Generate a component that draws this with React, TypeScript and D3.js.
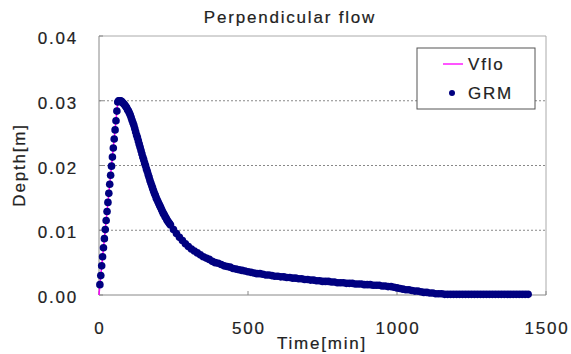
import * as d3 from "d3";

// ── Data ──────────────────────────────────────────────────
// GRM output: 3-min steps to 240 min, then 10-min steps to 1440 min
const grmTimeFine = d3.range(3, 241, 3);
const grmTimeTail = d3.range(250, 1441, 10);

// depth in 0.1 mm units (×1e-4 m)
const grmDepthFine = [
  16, 30, 45, 59, 73, 87, 101, 115, 129, 143, 157, 171, 185, 199, 213, 227, 241, 255, 269, 284, 298,
  300, 300, 300, 299, 298, 296, 295, 293, 291, 289,
  286, 284, 281, 278, 274, 270, 266, 262, 257, 252,
  247, 243, 238, 233, 228, 223, 218, 213, 209, 204,
  200, 195, 191, 186, 182, 177, 173, 169, 165, 161,
  157, 154, 150, 147, 144, 141, 138, 135, 132, 129,
  126, 124, 121, 119, 116, 114, 112, 110, 108,
];
const grmDepthTail = [
  101, 95, 89, 84, 79, 75, 71, 68, 65, 62,
  59, 57, 55, 52, 50, 49, 47, 45, 44, 43,
  41, 40, 39, 38, 37, 36, 35, 34, 33, 33,
  32, 31, 31, 30, 29, 29, 28, 28, 27, 27,
  26, 26, 25, 25, 24, 24, 23, 23, 22, 22,
  21, 21, 21, 20, 20, 19, 19, 19, 18, 18,
  18, 17, 17, 17, 16, 16, 16, 15, 15, 15,
  14, 14, 13, 13, 12, 11, 10, 9, 8, 8,
  7, 6, 6, 5, 4, 4, 3, 3, 2, 2,
  2, 1, 1, 1, 1, 1, 1, 1, 1, 1,
  1, 1, 1, 1, 1, 1, 1, 1, 1, 1,
  1, 1, 1, 1, 1, 1, 1, 1, 1, 1,
];

const vfloTime  = [0, 3, 63, 70, 90, 120, 150, 180, 210, 240, 300, 400, 500, 700, 900, 1000, 1100, 1200, 1440];
const vfloDepth = [0, 0.0016, 0.0298, 0.03, 0.0291, 0.0257, 0.0209, 0.0165, 0.0132, 0.0108, 0.0075,
  0.0049, 0.0036, 0.0024, 0.0016, 0.0011, 0.0004, 0.0001, 0.0001];

const xTicks = [0, 500, 1000, 1500];
const yTicks = [0, 0.01, 0.02, 0.03, 0.04];

// ── Layout ────────────────────────────────────────────────
const W = 571, H = 354;
const L = 99, R = 546, T = 36, B = 295;
const FONT = "'Liberation Sans', Arial, sans-serif";
const TXT = "#222";
const FS = 17, LS = 1.8;
// slight stroke to thicken glyphs like the blurry original
const txtProps = {
  fontFamily: FONT, fontSize: FS, letterSpacing: LS, fill: TXT,
  stroke: TXT, strokeWidth: 0.2,
};

const x = d3.scaleLinear().domain([0, 1500]).range([L, R]);
const y = d3.scaleLinear().domain([0, 0.04]).range([B, T]);

const grm = [
  ...grmTimeFine.map((t, i) => ({ t, d: grmDepthFine[i] * 1e-4 })),
  ...grmTimeTail.map((t, i) => ({ t, d: grmDepthTail[i] * 1e-4 })),
];
const vflo = vfloTime.map((t, i) => ({ t, d: vfloDepth[i] }));

const vfloLine = d3.line<{ t: number; d: number }>()
  .x(p => x(p.t)).y(p => y(p.d));

export default function App() {
  return (
    <svg width={W} height={H} style={{ position: "absolute", left: 0, top: 0, background: "#fff" }}>
      {/* title */}
      <text x={290} y={23} textAnchor="middle" {...txtProps}>Perpendicular flow</text>

      {/* gridlines */}
      {yTicks.filter(v => v > 0 && v < 0.04).map(v => (
        <line key={v} x1={L} x2={R} y1={y(v)} y2={y(v)}
          stroke="#888" strokeWidth={1} strokeDasharray="2,2" />
      ))}

      {/* plot frame */}
      <line x1={L} x2={R} y1={T} y2={T} stroke="#aaa" />
      <line x1={R} x2={R} y1={T} y2={B} stroke="#aaa" />
      <line x1={L} x2={L} y1={T} y2={B} stroke="#888" />
      <line x1={L} x2={R} y1={B} y2={B} stroke="#888" />

      {/* ticks */}
      {yTicks.map(v => (
        <line key={"yt" + v} x1={L} x2={L + 4} y1={y(v)} y2={y(v)} stroke="#888" />
      ))}
      {xTicks.map(v => (
        <line key={"xt" + v} x1={x(v)} x2={x(v)} y1={B} y2={B - 4} stroke="#888" />
      ))}

      {/* tick labels */}
      {yTicks.map(v => (
        <text key={"yl" + v} x={78} y={y(v) + 8} textAnchor="end" {...txtProps}>{v.toFixed(2)}</text>
      ))}
      {xTicks.map(v => (
        <text key={"xl" + v} x={x(v) + LS / 2} y={334} textAnchor="middle" {...txtProps}>{v}</text>
      ))}

      {/* axis titles */}
      <text x={322} y={349} textAnchor="middle" {...txtProps}>Time[min]</text>
      <text transform="translate(25,165) rotate(-90)" textAnchor="middle" {...txtProps}>Depth[m]</text>

      {/* Vflo */}
      <path d={vfloLine(vflo) ?? ""} fill="none" stroke="#ff00ff" strokeWidth={1.5} />

      {/* GRM */}
      {grm.map((p, i) => (
        <circle key={i} cx={x(p.t)} cy={y(p.d)} r={3.8} fill="#000080" />
      ))}

      {/* legend */}
      <rect x={417} y={48} width={118} height={61} fill="#fff" stroke="#555" />
      <line x1={443} x2={463} y1={64} y2={64} stroke="#ff55ff" strokeWidth={2} />
      <text x={468} y={70} {...txtProps}>Vflo</text>
      <circle cx={452} cy={93} r={3} fill="#000080" />
      <text x={468} y={99} {...txtProps}>GRM</text>
    </svg>
  );
}
